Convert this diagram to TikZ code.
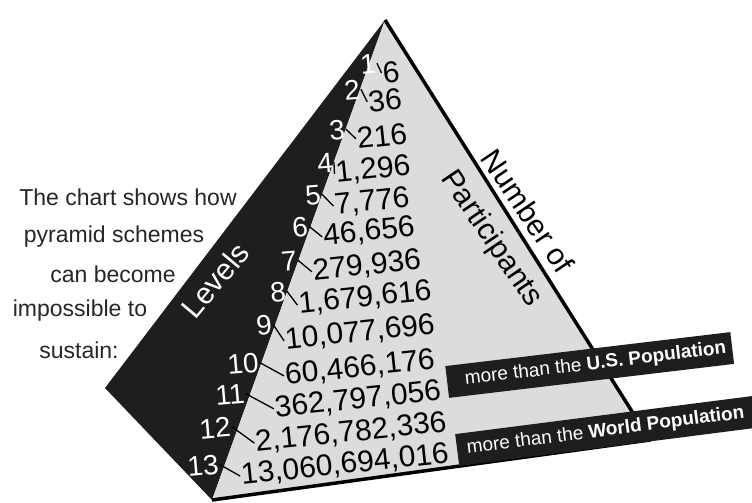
\documentclass[tikz,border=0pt]{standalone}
\usepackage{fontspec}
\setmainfont{Liberation Sans}
\definecolor{dark}{HTML}{1E1E1E}
\definecolor{light}{HTML}{DCDCDC}
\begin{document}
\begin{tikzpicture}[x=1pt,y=-1pt,
  cnt/.style={font=\fontsize{30}{32}\selectfont, text=black, inner sep=1pt, rotate=6},
  lvl/.style={font=\fontsize{28}{30}\selectfont, text=white, inner sep=1pt, rotate=5},
  tick/.style={draw=black, line width=1.3pt},
  side/.style={font=\fontsize{30}{32}\selectfont, inner sep=0pt},
  para/.style={font=\fontsize{23}{25}\selectfont, anchor=base, inner sep=0pt, text=black!85},
  banner/.style={fill=dark, text=white, anchor=west, inner xsep=0pt, inner ysep=0pt, minimum height=32pt, font=\fontsize{19}{21}\selectfont}
]
\useasboundingbox (0,0) rectangle (752,503);
\clip (0,0) rectangle (752,503);
\fill[white] (0,0) rectangle (752,503);
\coordinate (apex) at (385,20);
\coordinate (lc) at (105,388);
\coordinate (fc) at (212,500);
\coordinate (rc) at (650,440);
\fill[dark] (apex) -- (lc) -- (fc) -- cycle;
\fill[light] (apex) -- (fc) -- (rc) -- cycle;
\draw[line width=3.5pt, line join=round] (fc) -- (rc) -- (apex);

% left paragraph
\node[para] (p1) at (128,205) {The chart shows how};
\node[para] (p2) at (114,242) {pyramid schemes};
\node[para] (p3) at (113,282) {can become};
\node[para] (p4) at (80,316) {impossible to};
\node[para] (p5) at (79,358) {sustain:};

% side labels
\node[side, text=white, rotate=50] (levels) at (215,280) {Levels};
\node[side, rotate=-56] (numof) at (528,211) {Number of};
\node[side, rotate=-56] (part) at (491,239) {Participants};

% levels
\node[lvl] (l1) at (368,64) {1};
\node[lvl] (l2) at (352,90) {2};
\node[lvl] (l3) at (337,130) {3};
\node[lvl] (l4) at (325,163) {4};
\node[lvl] (l5) at (313,195) {5};
\node[lvl] (l6) at (300,227) {6};
\node[lvl] (l7) at (289,261) {7};
\node[lvl] (l8) at (278,292) {8};
\node[lvl] (l9) at (264,325) {9};
\node[lvl] (l10) at (243,364) {10};
\node[lvl] (l11) at (230,395) {11};
\node[lvl] (l12) at (215,428) {12};
\node[lvl] (l13) at (203,466) {13};

% counts
\node[cnt] (c1) at (391,72) {6};
\node[cnt] (c2) at (385,100) {36};
\node[cnt] (c3) at (382,136) {216};
\node[cnt] (c4) at (373,170) {1,296};
\node[cnt] (c5) at (372,202) {7,776};
\node[cnt] (c6) at (369,232) {46,656};
\node[cnt] (c7) at (367,266) {279,936};
\node[cnt] (c8) at (365,298) {1,679,616};
\node[cnt] (c9) at (360,333) {10,077,696};
\node[cnt] (c10) at (360,368) {60,466,176};
\node[cnt] (c11) at (358,400) {362,797,056};
\node[cnt] (c12) at (351,433) {2,176,782,336};
\node[cnt] (c13) at (345,465) {13,060,694,016};

\foreach \i in {1,...,13} {\draw[tick] (l\i.east) -- (c\i.west);}

% banners
\node[banner, rotate=6.8] (usb) at (447,382) {\makebox[287pt][l]{\hspace{18pt}more than the \textbf{U.S. Population}}};
\node[banner, rotate=7.3] (wb) at (457,450) {\makebox[320pt][l]{\hspace{10pt}more than the \textbf{World Population}}};
\end{tikzpicture}
\end{document}
